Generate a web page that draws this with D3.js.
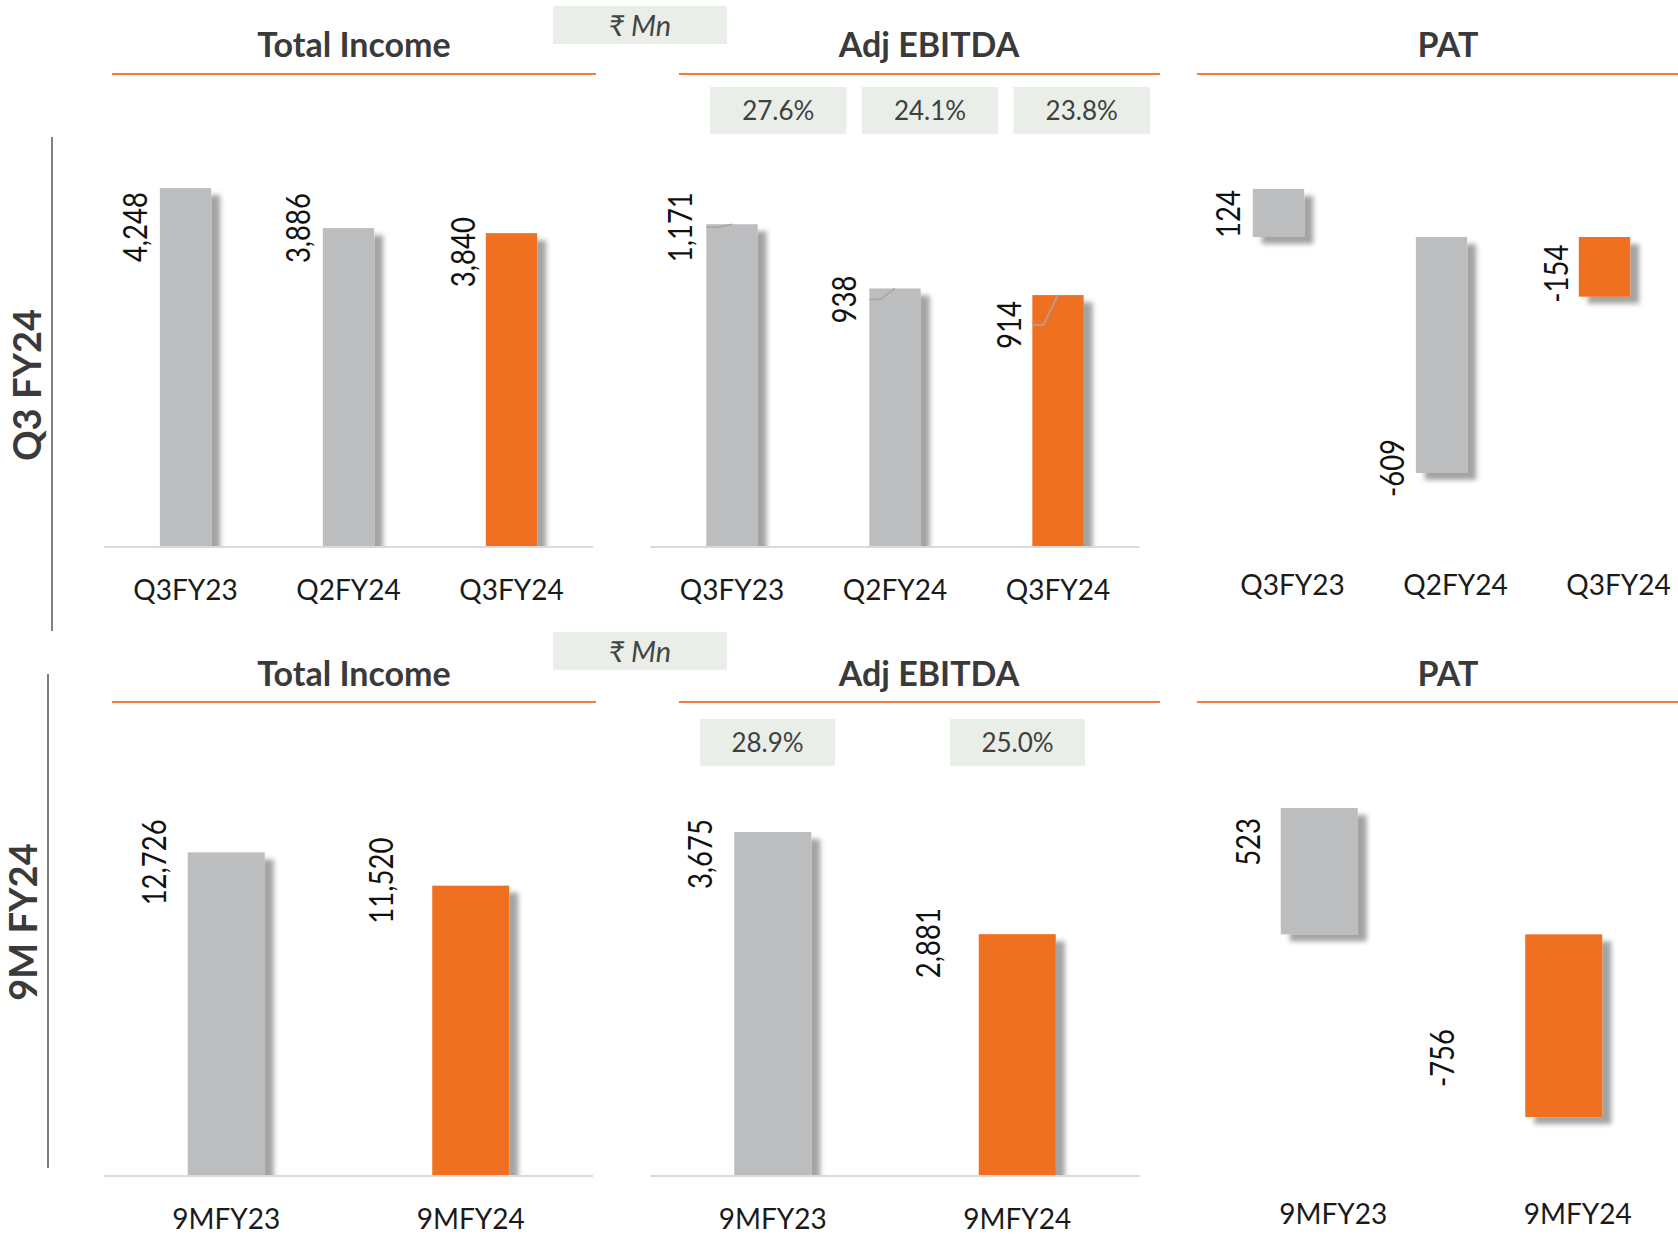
<!DOCTYPE html>
<html>
<head>
    <title>Financial Highlights</title>
    <script src="https://d3js.org/d3.v7.min.js"></script>
    <style>
        body {
            margin: 0;
            background-color: #ffffff;
        }
    </style>
</head>
<body>
    <script>
        // ---- data ----
        const panelTitles = ["Total Income", "Adj EBITDA", "PAT"];
        const rowTitles = ["Q3 FY24", "9M FY24"];
        const unitLabel = "₹ Mn";

        const q3Categories = ["Q3FY23", "Q2FY24", "Q3FY24"];
        const q3Income = [4248, 3886, 3840];
        const q3Ebitda = [1171, 938, 914];
        const q3EbitdaMargin = [27.6, 24.1, 23.8];
        const q3Pat = [124, -609, -154];

        const nineMCategories = ["9MFY23", "9MFY24"];
        const nineMIncome = [12726, 11520];
        const nineMEbitda = [3675, 2881];
        const nineMEbitdaMargin = [28.9, 25.0];
        const nineMPat = [523, -756];

        // ---- layout ----
        const width = 1678, height = 1234;
        const panelX = [[104, 593], [650.5, 1139.5], [1197, 1686]];
        const headerLines = [[112, 596], [679, 1160], [1197, 1678]];
        const titleX = [354, 929, 1448];
        const grey = "#bcbdbf", orange = "#f07022";

        const rows = [
            {
                title: rowTitles[0], cats: q3Categories,
                series: [q3Income, q3Ebitda, q3Pat], margin: q3EbitdaMargin,
                domains: [[1000, 5000], [0, 1600], [-800, 400]],
                tops: [105, 106, 82],
                base: 547, titleY: 57, lineY: 74, catY: 600,
                unitY: 6, marginY: 87, marginRange: [710, 1150], marginPad: 0.1,
                vline: {x: 52, y0: 137, y1: 631}, label: {x: 27, y: 385},
                // label nudges: [gap from bar left, shift along bar]
                nudges: [[[13, 39], [12.5, 0], [11, 19]],
                         [[14, 3], [13, 11], [11.5, 30]],
                         [[13, 25], [12, -5], [11, -23]]],
                leaders: [false, true, false]
            },
            {
                title: rowTitles[1], cats: nineMCategories,
                series: [nineMIncome, nineMEbitda, nineMPat], margin: nineMEbitdaMargin,
                domains: [[1000, 16000], [1000, 4500], [-1000, 800]],
                tops: [762, 726, 741],
                base: 1176, titleY: 686, lineY: 702, catY: 1229,
                unitY: 632, marginY: 719, marginRange: [700, 1085], marginPad: 0.46,
                vline: {x: 48, y0: 674, y1: 1168}, label: {x: 23, y: 922},
                nudges: [[[22, 10], [39, -5]],
                         [[22, 22], [39, 9]],
                         [[21, 34], [71, -59]]],
                leaders: [false, false, false]
            }
        ];

        const fmt = d3.formatLocale({decimal: ".", thousands: ",", grouping: [3], currency: ["", ""], minus: "-"}).format(",");
        const pct = d3.format(".1f");

        const svg = d3.select("body").append("svg")
            .attr("width", width)
            .attr("height", height)
            .style("font-family", "Lato, 'Open Sans', sans-serif");

        const defs = svg.append("defs");
        defs.append("filter")
            .attr("id", "shadow")
            .attr("x", "-30%").attr("y", "-30%")
            .attr("width", "180%").attr("height", "180%")
            .append("feDropShadow")
            .attr("dx", 9).attr("dy", 7)
            .attr("stdDeviation", 2.5)
            .attr("flood-color", "#000")
            .attr("flood-opacity", 0.36);

        rows.forEach(function (row, r) {
            const g = svg.append("g");

            defs.append("clipPath").attr("id", "clip" + r)
                .append("rect")
                .attr("x", 0).attr("y", row.base - 700)
                .attr("width", width).attr("height", 700);

            // row label and divider
            g.append("line")
                .attr("x1", row.vline.x).attr("x2", row.vline.x)
                .attr("y1", row.vline.y0).attr("y2", row.vline.y1)
                .style("stroke", "#7f7f7f").style("stroke-width", 2);

            g.append("text")
                .attr("transform", "translate(" + row.label.x + "," + row.label.y + ") rotate(-90)")
                .attr("dy", "0.36em")
                .style("text-anchor", "middle")
                .style("font-size", "38px")
                .style("font-weight", "bold")
                .style("fill", "#3a3a3a")
                .text(row.title);

            // unit box
            g.append("rect")
                .attr("x", 553).attr("y", row.unitY)
                .attr("width", 174).attr("height", 38)
                .style("fill", "#e9eee8");
            g.append("text")
                .attr("x", 640).attr("y", row.unitY + 30)
                .style("text-anchor", "middle")
                .style("font-size", "29px")
                .style("font-style", "italic")
                .style("fill", "#444")
                .text(unitLabel);

            row.series.forEach(function (values, p) {
                const x = d3.scaleBand()
                    .domain(row.cats)
                    .range(panelX[p])
                    .paddingInner(0.685)
                    .paddingOuter(0.3425);
                const y = d3.scaleLinear()
                    .domain(row.domains[p])
                    .range([row.base, row.tops[p]]);
                const zero = p === 2 ? y(0) : row.base;
                const last = row.cats.length - 1;

                // header
                g.append("text")
                    .attr("x", titleX[p]).attr("y", row.titleY)
                    .style("text-anchor", "middle")
                    .style("font-size", "34px")
                    .style("font-weight", "bold")
                    .style("fill", "#3a3a3a")
                    .text(panelTitles[p]);
                g.append("line")
                    .attr("x1", headerLines[p][0]).attr("x2", headerLines[p][1])
                    .attr("y1", row.lineY).attr("y2", row.lineY)
                    .style("stroke", "#f37b3c").style("stroke-width", 2);

                // bars
                g.append("g")
                    .attr("clip-path", p === 2 ? null : "url(#clip" + r + ")")
                    .selectAll("rect")
                    .data(values)
                    .enter()
                    .append("rect")
                    .attr("x", (d, i) => x(row.cats[i]))
                    .attr("y", d => d >= 0 ? y(d) : zero)
                    .attr("width", x.bandwidth())
                    .attr("height", d => Math.abs(y(d) - zero))
                    .attr("filter", "url(#shadow)")
                    .style("fill", (d, i) => i === last ? orange : grey);

                // baseline axis (hidden for PAT)
                if (p !== 2) {
                    g.append("line")
                        .attr("x1", panelX[p][0]).attr("x2", panelX[p][1])
                        .attr("y1", row.base).attr("y2", row.base)
                        .style("stroke", "#d9d9d9").style("stroke-width", 2);
                }

                // leader lines
                if (row.leaders[p]) {
                    values.forEach(function (d, i) {
                        const bx = x(row.cats[i]);
                        const ly = y(d) + row.nudges[p][i][1];
                        g.append("path")
                            .attr("d", d3.line()([[bx, ly], [bx + 11, ly], [bx + x.bandwidth() / 2, y(d)]]))
                            .style("fill", "none")
                            .style("stroke", "#a6a6a6")
                            .style("stroke-width", 1.5);
                    });
                }

                // value labels
                g.selectAll(".val" + r + p)
                    .data(values)
                    .enter()
                    .append("text")
                    .attr("class", "val" + r + p)
                    .attr("transform", function (d, i) {
                        const nx = x(row.cats[i]) - row.nudges[p][i][0];
                        const ny = y(d) + row.nudges[p][i][1];
                        return "translate(" + nx + "," + ny + ") rotate(-90) scale(0.86,1)";
                    })
                    .style("text-anchor", "middle")
                    .style("font-size", "32px")
                    .style("fill", "#111")
                    .text(d => fmt(d));

                // category labels
                const catDx = p === 2 ? 14 : 0;
                const catDy = p === 2 ? -5 : 0;
                g.selectAll(".cat" + r + p)
                    .data(row.cats)
                    .enter()
                    .append("text")
                    .attr("class", "cat" + r + p)
                    .attr("x", d => x(d) + x.bandwidth() / 2 + catDx)
                    .attr("y", row.catY + catDy)
                    .style("text-anchor", "middle")
                    .style("font-size", "28px")
                    .style("fill", "#1a1a1a")
                    .text(d => d);

                // margin boxes for EBITDA
                if (p === 1) {
                    const m = d3.scaleBand()
                        .domain(row.cats)
                        .range(row.marginRange)
                        .paddingInner(row.marginPad)
                        .paddingOuter(0);
                    const mg = g.selectAll(".mrg" + r)
                        .data(row.margin)
                        .enter()
                        .append("g")
                        .attr("class", "mrg" + r);
                    mg.append("rect")
                        .attr("x", (d, i) => m(row.cats[i]))
                        .attr("y", row.marginY)
                        .attr("width", m.bandwidth())
                        .attr("height", 47)
                        .style("fill", "#e9eee8");
                    mg.append("text")
                        .attr("x", (d, i) => m(row.cats[i]) + m.bandwidth() / 2)
                        .attr("y", row.marginY + 33)
                        .style("text-anchor", "middle")
                        .style("font-size", "26px")
                        .style("fill", "#404040")
                        .text(d => pct(d) + "%");
                }
            });
        });
    </script>
</body>
</html>
